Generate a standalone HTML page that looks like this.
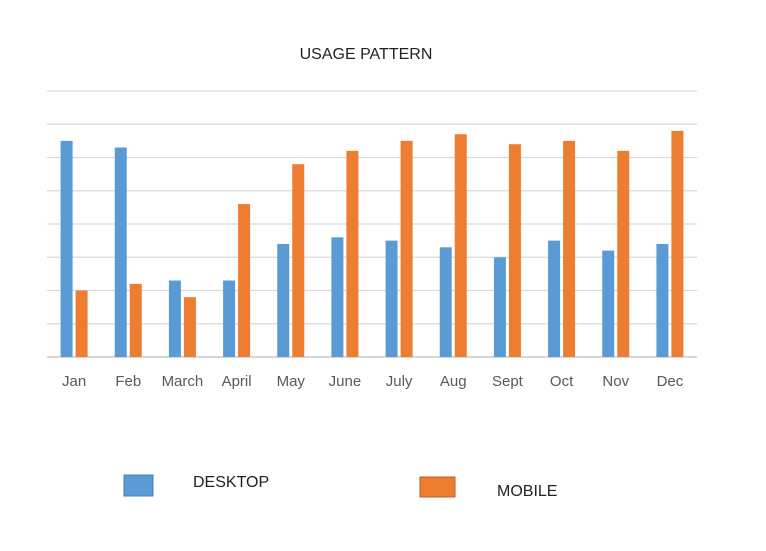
<!DOCTYPE html>
<html><head><meta charset="utf-8"><style>
body{margin:0;background:#fff;font-family:"Liberation Sans",sans-serif}
</style></head><body>
<svg id="chart" width="766" height="546">
<text x="366" y="59" text-anchor="middle" font-size="16" fill="#222">USAGE PATTERN</text>
<g id="grid"></g><g id="bars"></g><g id="labels"></g>
<rect x="124" y="475" width="29" height="21" fill="#5b9bd5" stroke="#4a7fb0"/>
<text x="193" y="487" font-size="16" fill="#222">DESKTOP</text>
<rect x="420" y="477" width="35" height="20" fill="#ed7d31" stroke="#b86020"/>
<text x="497" y="496" font-size="16" fill="#222">MOBILE</text>
</svg>
<script>
const categories=["Jan","Feb","March","April","May","June","July","Aug","Sept","Oct","Nov","Dec"];
const desktop=[6.5,6.3,2.3,2.3,3.4,3.6,3.5,3.3,3.0,3.5,3.2,3.4];
const mobile=[2.0,2.2,1.8,4.6,5.8,6.2,6.5,6.7,6.4,6.5,6.2,6.8];
const gridTicks=[0,1,2,3,4,5,6,7,8];
const NS="http://www.w3.org/2000/svg";
const x0=47,x1=697,yBase=357,yTop=91,yMax=8;
const y=v=>yBase-(v/yMax)*(yBase-yTop);
const band=(x1-x0)/categories.length;
const xc=i=>x0+band*(i+0.5);
function mk(tag,attrs,parent){const e=document.createElementNS(NS,tag);for(const k in attrs)e.setAttribute(k,attrs[k]);document.getElementById(parent).appendChild(e);return e;}
gridTicks.forEach(t=>{
 const l=mk("line",{x1:x0,x2:x1,y1:y(t),y2:y(t),stroke:t===0?"#bfbfbf":"#d9d9d9","stroke-width":1.3},"grid");
 
 
});
categories.forEach((c,i)=>{
 const d=mk("rect",{x:xc(i)-13.5,y:y(desktop[i]),width:12,height:yBase-y(desktop[i]),fill:"#5b9bd5"},"bars");
 
 
 const m=mk("rect",{x:xc(i)+1.5,y:y(mobile[i]),width:12,height:yBase-y(mobile[i]),fill:"#ed7d31"},"bars");
 
 
 const t=mk("text",{x:xc(i),y:386,"text-anchor":"middle","font-size":15,fill:"#595959"},"labels");
 t.textContent=c;
 
 
});
</script>
</body></html>
